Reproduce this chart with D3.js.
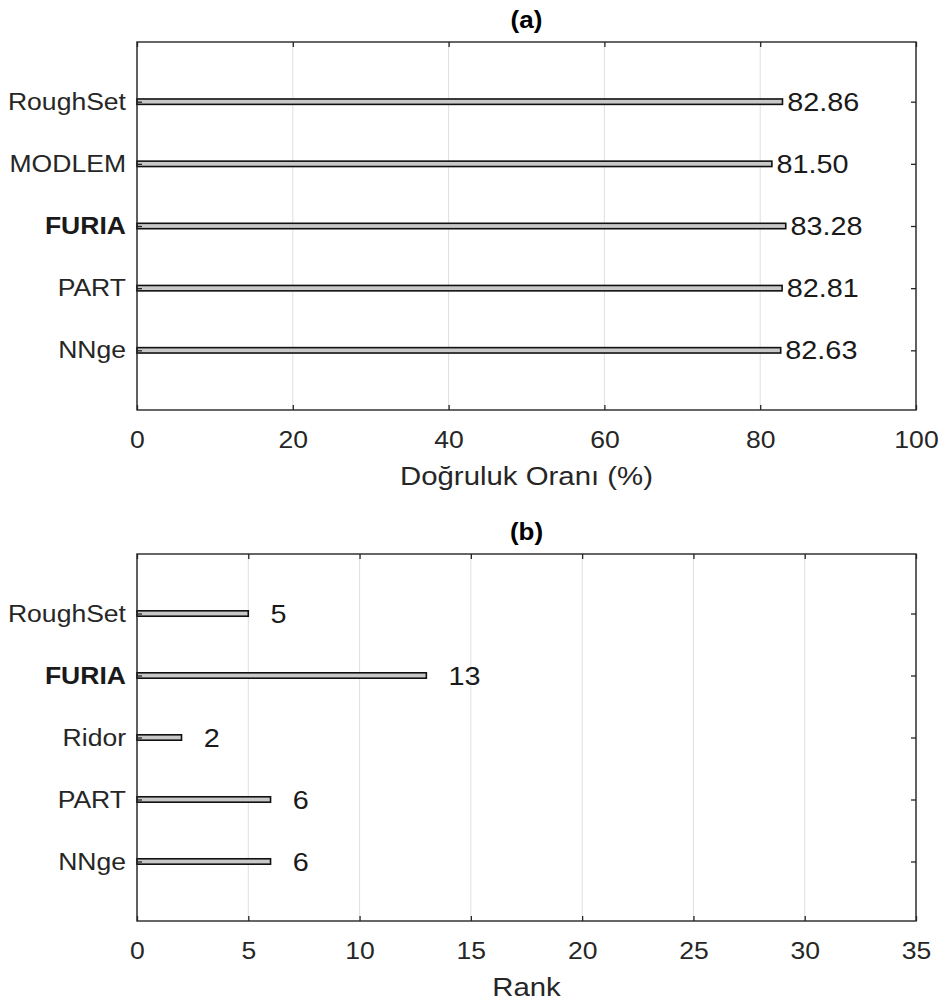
<!DOCTYPE html>
<html>
<head>
<meta charset="utf-8">
<script src="https://cdn.jsdelivr.net/npm/d3@7"></script>
<style>
  html, body { margin: 0; padding: 0; background: #fff; }
  svg { display: block; font-family: "Liberation Sans", Arial, Helvetica, sans-serif; }
</style>
</head>
<body>
<svg id="chart" width="940" height="1008"></svg>
<script>
// Panel (a): accuracy per classifier (bottom to top)
const accuracyCategories = ["NNge", "PART", "FURIA", "MODLEM", "RoughSet"];
const accuracyValues = [82.63, 82.81, 83.28, 81.50, 82.86];
const accuracyTicks = [0, 20, 40, 60, 80, 100];

// Panel (b): rank counts per classifier (bottom to top)
const rankCategories = ["NNge", "PART", "Ridor", "FURIA", "RoughSet"];
const rankValues = [6, 6, 2, 13, 5];
const rankTicks = [0, 5, 10, 15, 20, 25, 30, 35];

const boldCategory = "FURIA";

const svg = d3.select("#chart");
const axisColor = "#262626";
const tickFont = 23.5;
const valueFont = 25.5;
const labelFont = 26;
const titleFont = 23;
const widen = 1.13; // horizontal widening applied to all text

// widen text horizontally around its own anchor point
function widenText(sel) {
  sel.each(function () {
    const t = d3.select(this);
    const x = +t.attr("x") || 0;
    t.attr("transform", `translate(${x},0) scale(${widen},1) translate(${-x},0)`);
  });
}

function drawPanel(opts) {
  const { top, bottom, left, right, cats, vals, domain, ticks, title, xLabel, fmt, labelOffset } = opts;
  const g = svg.append("g");

  const x = d3.scaleLinear().domain(domain).range([left, right]);
  const y = d3.scalePoint().domain(cats).range([bottom, top]).padding(0.96);

  // vertical grid
  g.append("g").selectAll("line").data(ticks).join("line")
    .attr("x1", d => x(d)).attr("x2", d => x(d))
    .attr("y1", top).attr("y2", bottom)
    .attr("stroke", "#dfdfdf").attr("stroke-width", 1);

  // bars
  const barH = 5.4;
  g.append("g").selectAll("rect").data(cats).join("rect")
    .attr("x", x(0))
    .attr("y", (d) => y(d) - barH / 2)
    .attr("width", (d, i) => x(vals[i]) - x(0))
    .attr("height", barH)
    .attr("fill", "#c8c8c8")
    .attr("stroke", "#111")
    .attr("stroke-width", 1.6);

  // value labels
  g.append("g").selectAll("text").data(cats).join("text")
    .attr("x", (d, i) => x(vals[i] + labelOffset))
    .attr("y", d => y(d))
    .attr("dy", "0.36em")
    .attr("font-size", valueFont)
    .attr("fill", "#1a1a1a")
    .text((d, i) => fmt(vals[i]))
    .call(widenText);

  // axes (ticks inside the box)
  const axB = d3.axisBottom(x).tickValues(ticks).tickSize(-5).tickPadding(21).tickFormat(d3.format("d"));
  const axT = d3.axisTop(x).tickValues(ticks).tickSize(-5).tickFormat("");
  const axL = d3.axisLeft(y).tickSize(-5).tickPadding(11);
  const axR = d3.axisRight(y).tickSize(-5).tickFormat("");

  function style(sel) {
    sel.select(".domain").remove();
    sel.selectAll(".tick line").attr("stroke", axisColor).attr("stroke-width", 1.3);
    sel.selectAll(".tick text").attr("fill", "#262626").attr("font-size", tickFont)
      .attr("font-family", "'Liberation Sans', Arial, sans-serif")
      .call(widenText);
  }

  g.append("g").attr("transform", `translate(0,${bottom})`).call(axB).call(style);
  g.append("g").attr("transform", `translate(0,${top})`).call(axT).call(style);
  const leftAxis = g.append("g").attr("transform", `translate(${left},0)`).call(axL).call(style);
  g.append("g").attr("transform", `translate(${right},0)`).call(axR).call(style);

  leftAxis.selectAll(".tick text")
    .attr("font-weight", d => d === boldCategory ? "bold" : "normal")
    .attr("fill", d => d === boldCategory ? "#1a1a1a" : "#262626");

  // box
  g.append("rect")
    .attr("x", left).attr("y", top)
    .attr("width", right - left).attr("height", bottom - top)
    .attr("fill", "none").attr("stroke", axisColor).attr("stroke-width", 1.4);

  // title
  g.append("text")
    .attr("x", (left + right) / 2).attr("y", top - 14)
    .attr("text-anchor", "middle")
    .attr("font-size", titleFont).attr("font-weight", "bold").attr("fill", "#000")
    .text(title)
    .call(widenText);

  // x label
  g.append("text")
    .attr("x", (left + right) / 2).attr("y", bottom + 75)
    .attr("text-anchor", "middle")
    .attr("font-size", labelFont).attr("fill", "#262626")
    .text(xLabel)
    .call(widenText);
}

drawPanel({
  top: 42, bottom: 410, left: 137, right: 916,
  cats: accuracyCategories, vals: accuracyValues,
  domain: [0, 100], ticks: accuracyTicks,
  title: "(a)", xLabel: "Doğruluk Oranı (%)",
  fmt: d3.format(".2f"), labelOffset: 0.6
});

drawPanel({
  top: 554, bottom: 921, left: 137, right: 916,
  cats: rankCategories, vals: rankValues,
  domain: [0, 35], ticks: rankTicks,
  title: "(b)", xLabel: "Rank",
  fmt: d3.format("d"), labelOffset: 1
});
</script>
</body>
</html>
